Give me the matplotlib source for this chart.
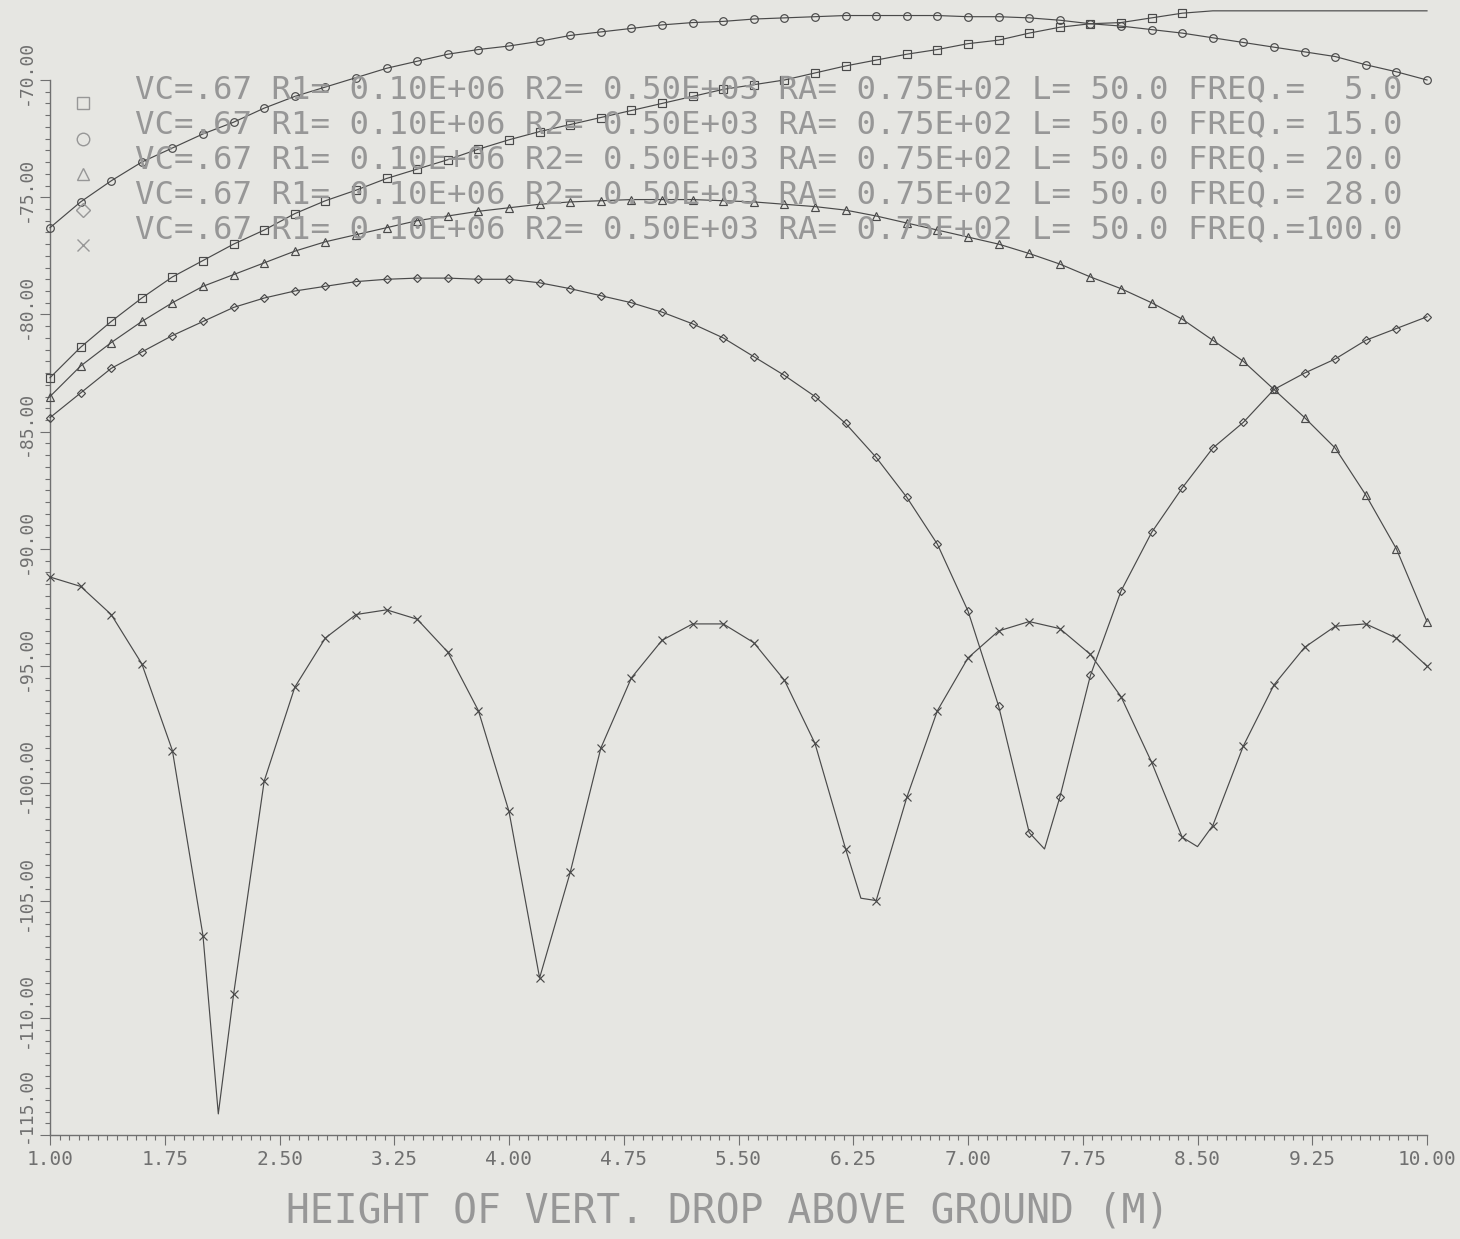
import matplotlib
matplotlib.use("Agg")
import matplotlib.pyplot as plt
from matplotlib.lines import Line2D
from matplotlib.ticker import FixedLocator, FixedFormatter, NullFormatter
from matplotlib.transforms import ScaledTranslation

# ---------------- data ----------------
heights = [1.0, 1.2, 1.4, 1.6, 1.8, 2.0, 2.2, 2.4, 2.6, 2.8,
           3.0, 3.2, 3.4, 3.6, 3.8, 4.0, 4.2, 4.4, 4.6, 4.8,
           5.0, 5.2, 5.4, 5.6, 5.8, 6.0, 6.2, 6.4, 6.6, 6.8,
           7.0, 7.2, 7.4, 7.6, 7.8, 8.0, 8.2, 8.4, 8.6, 8.8,
           9.0, 9.2, 9.4, 9.6, 9.8, 10.0]

freqs = [5.0, 15.0, 20.0, 28.0, 100.0]

# 5 MHz (square) - rises beyond the plotter limit at the right (clipped there)
f5 = [-82.7, -81.4, -80.3, -79.3, -78.4, -77.7, -77.0, -76.4, -75.7, -75.15,
      -74.7, -74.2, -73.8, -73.4, -72.95, -72.55, -72.2, -71.9, -71.6, -71.3,
      -71.0, -70.7, -70.4, -70.2, -70.0, -69.7, -69.4, -69.15, -68.9, -68.7,
      -68.45, -68.3, -68.0, -67.75, -67.6, -67.55, -67.35, -67.15, -67.05, -67.05,
      -67.05, -67.05, -67.05, -67.05, -67.05, -67.05]
f5_last_marked = 8.4

# 15 MHz (circle)
f15 = [-76.3, -75.2, -74.3, -73.5, -72.9, -72.3, -71.8, -71.2, -70.7, -70.3,
       -69.9, -69.5, -69.2, -68.9, -68.7, -68.55, -68.35, -68.1, -67.95, -67.8,
       -67.65, -67.55, -67.5, -67.4, -67.35, -67.3, -67.25, -67.25, -67.25, -67.25,
       -67.3, -67.3, -67.35, -67.45, -67.6, -67.7, -67.85, -68.0, -68.2, -68.4,
       -68.6, -68.8, -69.0, -69.35, -69.65, -70.0]

# 20 MHz (triangle)
f20 = [-83.5, -82.2, -81.2, -80.3, -79.5, -78.8, -78.3, -77.8, -77.3, -76.9,
       -76.6, -76.3, -76.0, -75.8, -75.6, -75.45, -75.3, -75.2, -75.15, -75.1,
       -75.1, -75.1, -75.15, -75.2, -75.3, -75.4, -75.55, -75.8, -76.1, -76.4,
       -76.7, -77.0, -77.4, -77.85, -78.4, -78.9, -79.5, -80.2, -81.1, -82.0,
       -83.2, -84.4, -85.7, -87.7, -90.0, -93.1]

# 28 MHz (diamond)
f28 = [-84.4, -83.35, -82.3, -81.6, -80.9, -80.3, -79.7, -79.3, -79.0, -78.8,
       -78.6, -78.5, -78.45, -78.45, -78.5, -78.5, -78.65, -78.9, -79.2, -79.5,
       -79.9, -80.4, -81.0, -81.8, -82.6, -83.5, -84.65, -86.1, -87.8, -89.8,
       -92.65, -96.7, -102.1, -100.6, -95.4, -91.8, -89.3, -87.4, -85.7, -84.6,
       -83.2, -82.5, -81.9, -81.1, -80.6, -80.1]
f28_null_h = [7.5]
f28_null_v = [-102.8]

# 100 MHz (cross)
f100 = [-91.2, -91.6, -92.8, -94.9, -98.6, -106.5, -109.0, -99.9, -95.9, -93.8,
        -92.8, -92.6, -93.0, -94.4, -96.9, -101.2, -108.3, -103.8, -98.5, -95.5,
        -93.9, -93.2, -93.2, -94.0, -95.6, -98.3, -102.8, -105.0, -100.6, -96.9,
        -94.65, -93.5, -93.1, -93.4, -94.5, -96.3, -99.1, -102.3, -101.8, -98.4,
        -95.8, -94.2, -93.3, -93.2, -93.8, -95.0]
f100_null_h = [2.1, 6.3, 8.5]
f100_null_v = [-114.1, -104.9, -102.7]

x_ticks = [1.00, 1.75, 2.50, 3.25, 4.00, 4.75, 5.50, 6.25, 7.00, 7.75, 8.50, 9.25, 10.00]
y_ticks = [-115.0, -110.0, -105.0, -100.0, -95.0, -90.0, -85.0, -80.0, -75.0, -70.0]
x_tick_labels = ["%.2f" % t for t in x_ticks]
y_tick_labels = ["%.2f" % t for t in y_ticks]

legend_common = "VC=.67 R1= 0.10E+06 R2= 0.50E+03 RA= 0.75E+02 L= 50.0 FREQ.="
x_label = "HEIGHT OF VERT. DROP ABOVE GROUND (M)"

# ---------------- style ----------------
W, H = 1460, 1239
PAPER = "#e6e6e2"
INK = "#4a4a4a"
AXC = "#707070"
TXT = "#979797"
MONO = ["DejaVu Sans Mono"]
plt.rcParams["font.family"] = MONO

fig = plt.figure(figsize=(W / 100, H / 100), dpi=100, facecolor=PAPER)

x0px, x1px = 50, 1427
ytop_px, ybot_px = 80, 1135
px_per_db = (ybot_px - ytop_px) / (y_ticks[-1] - y_ticks[0])
ax = fig.add_axes([x0px / W, (H - ybot_px) / H, (x1px - x0px) / W, ybot_px / H])
ax.set_facecolor(PAPER)
ax.set_xlim(x_ticks[0], x_ticks[-1])
ax.set_ylim(y_ticks[0], y_ticks[-1] + ytop_px / px_per_db)


def merged(h, v, nh, nv):
    pts = sorted(zip(list(h) + list(nh), list(v) + list(nv)))
    return [p[0] for p in pts], [p[1] for p in pts]


series = [
    (f5, [], [], "s"),
    (f15, [], [], "o"),
    (f20, [], [], "^"),
    (f28, f28_null_h, f28_null_v, "D"),
    (f100, f100_null_h, f100_null_v, "x"),
]

for k, (vals, nh, nv, mk) in enumerate(series):
    lx, ly = merged(heights, vals, nh, nv)
    ax.plot(lx, ly, color=INK, lw=0.85, clip_on=False, zorder=3)
    if k == 0:
        mx = [h for h in heights if h <= f5_last_marked]
        my = [v for h, v in zip(heights, vals) if h <= f5_last_marked]
    else:
        mx, my = heights, vals
    ms = 5.5 if mk != "D" else 4.5
    ax.plot(mx, my, ls="none", marker=mk, ms=ms, mfc="none", mec=INK, mew=0.85,
            clip_on=False, zorder=4)

# axes / ticks
for s in ("top", "right"):
    ax.spines[s].set_visible(False)
for s in ("left", "bottom"):
    ax.spines[s].set_color(AXC)
    ax.spines[s].set_linewidth(1.0)
ax.spines["left"].set_bounds(y_ticks[0], y_ticks[-1])

ax.xaxis.set_major_locator(FixedLocator(x_ticks))
ax.xaxis.set_major_formatter(FixedFormatter(x_tick_labels))
ax.xaxis.set_minor_locator(FixedLocator([x_ticks[0] + 0.0625 * i for i in range(145)]))
ax.yaxis.set_major_locator(FixedLocator(y_ticks))
ax.yaxis.set_major_formatter(NullFormatter())
ax.yaxis.set_minor_locator(FixedLocator([y_ticks[0] + 0.5 * i for i in range(91)]))

ax.tick_params(which="both", direction="out", color=AXC, width=0.8)
ax.tick_params(which="major", length=7)
ax.tick_params(which="minor", length=3.5)
ax.tick_params(axis="x", labelsize=14, labelcolor=AXC, pad=4)

# rotated y tick labels (plotter style), drawn as text at each tick
ax_w_px = x1px - x0px
for yv, lab in zip(y_ticks, y_tick_labels):
    shift_px = 30 if yv == y_ticks[0] else 8
    off = ScaledTranslation(0, shift_px / 100, fig.dpi_scale_trans)
    ax.text((26 - x0px) / ax_w_px, yv, lab, transform=ax.get_yaxis_transform() + off,
            rotation=90, ha="center", va="center", fontsize=13, color=AXC,
            family=MONO, clip_on=False)

# x label
fig.text(728 / W, 1 - 1212 / H, x_label, ha="center", va="center",
         fontsize=28.5, color=TXT, family=MONO)

# legend (plotter style, drawn in figure pixels)
markers = ["s", "o", "^", "D", "x"]
for i, f in enumerate(freqs):
    ty = 90 + 35 * i
    fig.text(135 / W, 1 - ty / H, "%s%5.1f" % (legend_common, f), ha="left", va="center",
             fontsize=23.3, color=TXT, family=MONO)
    sy = 103 + 35.5 * i
    fig.add_artist(Line2D([83 / W], [1 - sy / H], transform=fig.transFigure,
                          ls="none", marker=markers[i], ms=9 if markers[i] != "D" else 7.5,
                          mfc="none", mec=TXT, mew=1.0))

fig.savefig("out.png", dpi=100, facecolor=PAPER)
